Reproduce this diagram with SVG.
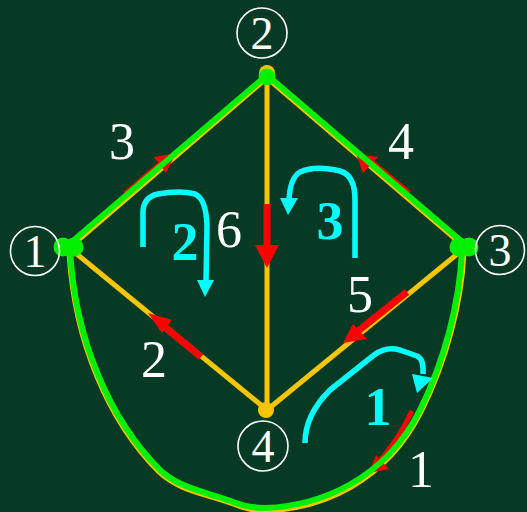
<svg xmlns="http://www.w3.org/2000/svg" width="527" height="512" viewBox="0 0 527 512">
<style>
.y{stroke:#f7c600;stroke-width:5;fill:none;stroke-linecap:round}
.g{stroke:#00f000;stroke-width:6;fill:none;stroke-linecap:round}
.r{stroke:#ff0000;stroke-width:7;fill:none}
.rt{stroke:#ff0000;stroke-width:5;fill:none}
.rf{fill:#ff0000}
.c{stroke:#00ffff;stroke-width:5.5;fill:none;stroke-linejoin:round}
.cf{fill:#00ffff}
.lbl{font-family:"Liberation Serif",serif;font-size:52px;fill:#ffffff;text-anchor:middle}
.loop{font-family:"Liberation Serif",serif;font-size:54px;font-weight:bold;fill:#00ffff;text-anchor:middle}
.ring{fill:none;stroke:#ffffff;stroke-width:1.6}
.num{font-family:"Liberation Serif",serif;font-size:46px;fill:#ffffff;text-anchor:middle}
</style>
<rect width="527" height="512" fill="#073a25"/>
<g id="connectors">
  <line class="y" x1="69" y1="248" x2="268" y2="77"/>
  <line class="y" x1="266" y1="77" x2="466" y2="248"/>
  <line class="y" x1="267" y1="75" x2="267" y2="410"/>
  <line class="y" x1="67" y1="246" x2="267" y2="410"/>
  <line class="y" x1="467" y1="246" x2="267" y2="410"/>
  <path class="y" d="M 69 252 C 74 342, 109 422, 159 472 C 180 492, 208 494, 236 505 C 246 509, 255 511, 265 511 C 322 509, 386 482, 421 412 C 446 362, 462 302, 464 252"/>
  <line class="rt" x1="125" y1="194" x2="160" y2="164"/>
  <polygon class="rf" points="176,153 154,157 166,173"/>
  <line class="rt" x1="409" y1="193" x2="372" y2="162"/>
  <polygon class="rf" points="356,154 378,157 363,173"/>
  <line class="r" x1="267" y1="204" x2="267" y2="246"/>
  <polygon class="rf" points="255,245 279,245 267,268"/>
  <line class="r" x1="201" y1="357" x2="160" y2="323"/>
  <polygon class="rf" points="148,313 172,320 162,333"/>
  <line class="r" x1="407" y1="292" x2="358" y2="331"/>
  <polygon class="rf" points="343,343 367,339 353,324"/>
  <path class="rt" d="M 412 411 Q 397 443 375 466"/>
  <polygon class="rf" points="369,473 376,455 389,469"/>
  <line class="g" x1="67" y1="246" x2="267" y2="75"/>
  <line class="g" x1="267" y1="75" x2="467" y2="246"/>
  <path class="g" d="M 70 250 C 75 340, 110 420, 160 470 C 180 489, 208 492, 236 503 C 246 507, 255 508, 265 508 C 320 506, 385 480, 420 410 C 445 360, 460 300, 462 250"/>
  <path class="c" d="M 143 247 L 143 213 Q 143 197 158 194 Q 180 190 195 194 Q 206 199 207 225 L 206 282"/>
  <polygon class="cf" points="197,280 214,280 205,297"/>
  <path class="c" d="M 355 258 L 355 200 Q 355 175 340 171 Q 315 165 300 172 Q 290 178 289 200"/>
  <polygon class="cf" points="280,198 298,198 288,215"/>
  <path class="c" d="M 305 443 Q 305 415 330 390 L 374 355 Q 386 346 400 350 L 417 356 Q 424 359 423 374"/>
  <polygon class="cf" points="412,374 433,378 417,393"/>
</g>
<g id="node1">
  <circle cx="63" cy="247" r="9.5" fill="#00f000"/>
  <circle cx="74" cy="247" r="9.5" fill="#00f000"/>
  <circle class="ring" cx="35" cy="251" r="24.5"/>
  <text class="num" x="35" y="267">1</text>
</g>
<g id="node2">
  <circle cx="267" cy="73" r="8" fill="#f7c600"/>
  <circle cx="267" cy="77" r="8.5" fill="#00f000"/>
  <circle class="ring" cx="262" cy="33" r="25"/>
  <text class="num" x="262" y="49">2</text>
</g>
<g id="node3">
  <circle cx="459" cy="247" r="9.5" fill="#00f000"/>
  <circle cx="469" cy="247" r="9.5" fill="#00f000"/>
  <circle class="ring" cx="500" cy="250" r="24.5"/>
  <text class="num" x="500" y="266">3</text>
</g>
<g id="node4">
  <circle cx="266" cy="410" r="8" fill="#f7c600"/>
  <circle class="ring" cx="263" cy="446" r="25"/>
  <text class="num" x="263" y="462">4</text>
</g>
<g id="labels">
  <text class="lbl" x="122" y="159">3</text>
  <text class="lbl" x="401" y="159">4</text>
  <text class="lbl" x="229" y="247">6</text>
  <text class="lbl" x="154" y="377">2</text>
  <text class="lbl" x="360" y="312">5</text>
  <text class="lbl" x="421" y="487">1</text>
  <text class="loop" x="185" y="260">2</text>
  <text class="loop" x="330" y="239">3</text>
  <text class="loop" x="378" y="425">1</text>
</g>
</svg>
